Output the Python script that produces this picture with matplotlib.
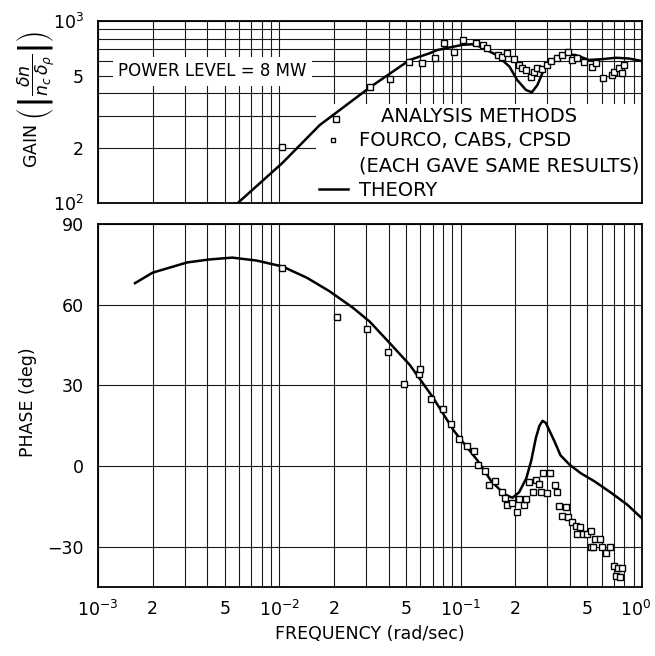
import numpy as np
import matplotlib
matplotlib.use("Agg")
import matplotlib.pyplot as plt
import matplotlib.transforms as mtransforms
from matplotlib.lines import Line2D
from matplotlib.ticker import FixedLocator, FixedFormatter, NullLocator

# --- gain panel data ---
gain_theory_f = [0.0059, 0.0104, 0.0167, 0.0317, 0.0524, 0.0675, 0.074, 0.1025, 0.115, 0.127,
                 0.158, 0.186, 0.205, 0.229, 0.247, 0.265, 0.29, 0.32, 0.38, 0.43, 0.51,
                 0.60, 0.72, 0.85, 1.0]
gain_theory = [100, 166, 268, 433, 611, 665, 692, 740, 745, 725,
               650, 561, 474, 418, 406, 445, 550, 611, 656, 650, 611,
               617, 628, 622, 602]

gain_data_f = [0.0104, 0.0206, 0.0315, 0.041, 0.0516, 0.0613, 0.072, 0.081, 0.092, 0.1025,
               0.122, 0.132, 0.14, 0.16, 0.17, 0.18, 0.196, 0.21, 0.217, 0.23, 0.245,
               0.255, 0.265, 0.28, 0.30, 0.315, 0.34, 0.36, 0.39, 0.41, 0.44, 0.48,
               0.53, 0.56, 0.61, 0.68, 0.70, 0.75, 0.78, 0.80]
gain_data = [203, 289, 433, 480, 595, 588, 628, 754, 673, 787,
             754, 738, 713, 650, 637, 665, 617, 574, 553, 538, 494,
             526, 553, 545, 574, 603, 623, 650, 678, 611, 623, 597,
             561, 586, 484, 505, 526, 550, 516, 574]

# --- phase panel data ---
phase_theory_f = [0.0016, 0.002, 0.0031, 0.0041, 0.0055, 0.0075, 0.0104, 0.0142, 0.0189, 0.0254,
                  0.0315, 0.0405, 0.0524, 0.07, 0.092, 0.124, 0.147, 0.174, 0.193, 0.21,
                  0.23, 0.245, 0.26, 0.272, 0.283, 0.295, 0.307, 0.33, 0.355, 0.40,
                  0.46, 0.55, 0.68, 0.83, 1.0]
phase_theory = [68, 71.9, 75.7, 76.8, 77.5, 76.4, 74.2, 70, 65, 58.9,
                53.7, 45.8, 37.6, 25.7, 13, 2, -5.5, -10.5, -11.8, -9.8,
                -4.6, 2, 10.5, 15, 16.8, 16, 13.5, 9, 4, 0.4,
                -2.7, -5.8, -10.1, -14.4, -19.5]

phase_data_f = [0.0104, 0.0207, 0.0306, 0.0395, 0.049, 0.059, 0.06, 0.069, 0.0795, 0.089,
                0.098, 0.109, 0.119, 0.125, 0.137, 0.144, 0.155, 0.168, 0.176, 0.181,
                0.193, 0.205, 0.21, 0.224, 0.23, 0.239, 0.25, 0.26, 0.27, 0.278,
                0.284, 0.30, 0.31, 0.33, 0.34, 0.35, 0.36, 0.38, 0.39, 0.41,
                0.43, 0.44, 0.455, 0.47, 0.50, 0.52, 0.52, 0.54, 0.55, 0.59,
                0.60, 0.63, 0.67, 0.70, 0.72, 0.74, 0.76, 0.78]
phase_data = [73.8, 55.5, 51, 42.5, 30.6, 34.3, 36, 25, 21.2, 15.7,
              10, 7.5, 5.5, 0.5, -2, -7, -5.5, -9.5, -12, -14.5,
              -13.8, -17, -12.2, -14.5, -12.2, -5.8, -9.8, -5.2, -6.8, -9.8,
              -2.7, -10, -2.7, -7.2, -9.6, -15, -18.7, -15.4, -19.1, -20.7,
              -22.2, -25.2, -22.8, -25.2, -25.2, -24, -30.1, -30.1, -27.3, -27.3,
              -30.1, -32.2, -30.1, -37.3, -40.8, -38.1, -41.2, -37.9]

x_ticks = [m * 10.0 ** e for e in (-3, -2, -1) for m in range(1, 10)] + [1.0]
x_labels = []
for t in x_ticks:
    e = int(np.floor(np.log10(t) + 1e-9))
    m = round(t / 10.0 ** e)
    if m == 1:
        x_labels.append(r"$10^{%d}$" % e)
    elif m in (2, 5):
        x_labels.append(str(m))
    else:
        x_labels.append("")

gain_ticks = [100 * m for m in range(1, 11)]
gain_labels = [r"$10^2$", "2", "", "", "5", "", "", "", "", r"$10^3$"]

fs = 12.5
plt.rcParams["font.family"] = "DejaVu Sans"
plt.rcParams["mathtext.fontset"] = "dejavusans"

fig = plt.figure(figsize=(6.55, 6.56), dpi=100)
ax_g = fig.add_axes([98 / 655, 1 - 203 / 656, 544 / 655, 182 / 656])
ax_p = fig.add_axes([98 / 655, 1 - 587 / 656, 544 / 655, 363 / 656])

for ax in (ax_g, ax_p):
    ax.set_xscale("log")
    ax.set_xlim(1e-3, 1.0)
    ax.xaxis.set_major_locator(FixedLocator(x_ticks))
    ax.xaxis.set_minor_locator(NullLocator())
    ax.grid(True, which="major", color="0.1", linewidth=0.8)
    ax.tick_params(length=0, labelsize=fs)
    for s in ax.spines.values():
        s.set_linewidth(1.3)
        s.set_zorder(10)
    ax.set_axisbelow(True)

ax_g.xaxis.set_major_formatter(FixedFormatter([""] * len(x_ticks)))
ax_p.xaxis.set_major_formatter(FixedFormatter(x_labels))
ax_p.tick_params(axis="x", pad=9)
# nudge the last label (10^0) inward so it is not clipped
last = ax_p.get_xticklabels()[-1]
last.set_transform(last.get_transform() +
                   mtransforms.ScaledTranslation(-6 / 100, 0, fig.dpi_scale_trans))

# gain panel
ax_g.set_yscale("log")
ax_g.set_ylim(100, 1000)
ax_g.yaxis.set_major_locator(FixedLocator(gain_ticks))
ax_g.yaxis.set_minor_locator(NullLocator())
ax_g.yaxis.set_major_formatter(FixedFormatter(gain_labels))
ax_g.tick_params(axis="y", pad=10)

th, = ax_g.plot(gain_theory_f, gain_theory, color="black", lw=1.8, zorder=6)
dp, = ax_g.plot(gain_data_f, gain_data, ls="none", marker="s", ms=5, mfc="white",
                mec="black", mew=1.0, zorder=7)
blank = Line2D([], [], ls="none")

ax_g.text(0.037, 0.725, "POWER LEVEL = 8 MW", transform=ax_g.transAxes, fontsize=12,
          va="center", ha="left",
          bbox=dict(facecolor="white", edgecolor="none", pad=4))

leg = ax_g.legend(handles=[dp, blank, th],
                  labels=["FOURCO, CABS, CPSD", "(EACH GAVE SAME RESULTS)", "THEORY"],
                  loc="lower right", title="ANALYSIS METHODS",
                  fontsize=14, title_fontsize=14, frameon=True, fancybox=False,
                  framealpha=1, facecolor="white", edgecolor="none",
                  borderaxespad=0.0, borderpad=0.15, handlelength=1.5, handletextpad=0.55,
                  labelspacing=0.3, markerscale=0.7)
leg.set_zorder(5)

# phase panel
ax_p.set_ylim(-45, 90)
ax_p.yaxis.set_major_locator(FixedLocator([-30, 0, 30, 60, 90]))
ax_p.tick_params(axis="y", pad=10)
ax_p.plot(phase_theory_f, phase_theory, color="black", lw=1.8)
ax_p.plot(phase_data_f, phase_data, ls="none", marker="s", ms=5, mfc="white",
          mec="black", mew=1.0)

fig.text(36 / 655, 1 - 100 / 656,
         r"GAIN $\left(\left|\dfrac{\delta n}{n_c\,\delta_\rho}\right|\right)$",
         rotation=90, ha="center", va="center", fontsize=fs)
fig.text(28 / 655, 1 - 402 / 656, "PHASE (deg)", rotation=90, ha="center",
         va="center", fontsize=fs)
fig.text(370 / 655, 1 - 634 / 656, "FREQUENCY (rad/sec)", ha="center", va="center",
         fontsize=fs)

fig.savefig("out.png", dpi=100)
